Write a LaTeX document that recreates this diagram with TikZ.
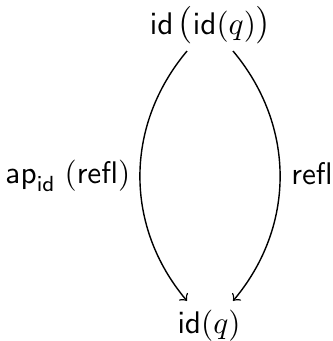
\documentclass[tikz,border=0pt]{standalone}
\usepackage{amsmath}
\usetikzlibrary{calc}
\newcommand{\bigparL}{\mbox{\rmfamily\large(}}
\newcommand{\bigparR}{\mbox{\rmfamily\large)}}
\begin{document}
\begin{tikzpicture}[x=0.32pt,y=-0.32pt,
  txt/.style={inner sep=0pt, anchor=base},
  arr/.style={->, line width=0.45pt}]
\useasboundingbox (0,0) rectangle (332,341);
\node[txt] (top) at (210,35) {$\mathsf{id}\,\bigparL\mathsf{id}(q)\bigparR$};
\node[txt] (bot) at (209,333) {$\mathsf{id}(q)$};
\node[txt] (lab1) at (68,184) {$\mathsf{ap}_{\mathsf{id}}\;(\mathsf{refl})$};
\node[txt] (lab2) at (312,185) {$\mathsf{refl}$};
\draw[arr] ($(top.south)+(-23,6)$) to[bend right=40] ($(bot.north)+(-22,-8)$);
\draw[arr] ($(top.south)+(23,6)$) to[bend left=40] ($(bot.north)+(24,-8)$);
\end{tikzpicture}
\end{document}
